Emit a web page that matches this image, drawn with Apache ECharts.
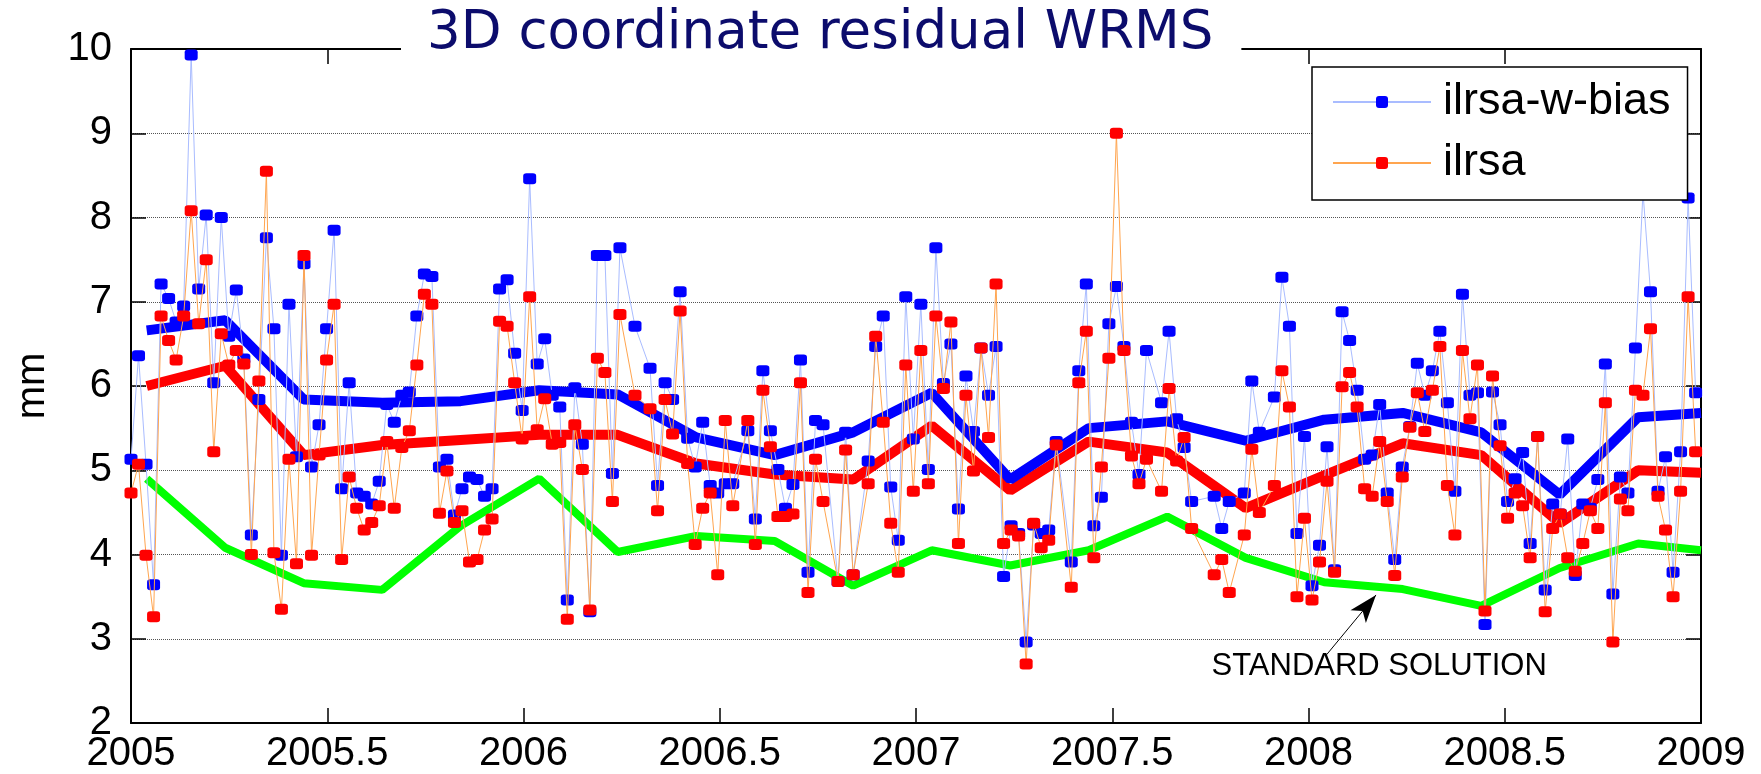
<!DOCTYPE html>
<html>
<head>
<meta charset="utf-8">
<title>3D coordinate residual WRMS</title>
<script src="https://cdn.jsdelivr.net/npm/echarts@6/dist/echarts.min.js"></script>
<style>
  html, body { margin: 0; padding: 0; background: #fff; }
  #chart { width: 1761px; height: 774px; }
</style>
</head>
<body>
<div id="chart"></div>
<script>
// Weekly solutions: week number counted from the start of 2005
const weekNo = [
  0,1,2,3,4,5,6,7,8,9,10,11,12,13,14,15,16,17,18,19,
  20,21,22,23,24,25,26,27,28,29,30,31,32,33,34,35,36,37,38,39,
  40,41,42,43,44,45,46,47,48,49,50,51,52,53,54,55,56,57,58,59,
  60,61,62,63,64,65,67,
  69,70,71,72,73,74,75,76,77,78,79,80,
  82,83,84,85,86,87,88,89,90,91,92,
  94,95,96,
  98,99,100,101,102,103,104,105,106,107,108,109,110,111,112,113,114,115,116,117,118,119,120,121,122,123,
  125,126,127,128,129,130,131,132,133,134,135,
  137,138,139,140,141,
  144,145,146,
  148,149,150,
  152,153,154,155,156,157,158,159,160,161,162,163,164,165,166,167,168,169,170,171,
  172,173,174,175,176,177,178,179,180,181,182,183,184,185,186,187,188,189,190,191,
  192,193,194,195,196,197,198,199,200,201,202,203,204,205,206,207,208
];

// 3D coordinate residual WRMS (mm), solution with range biases estimated
const wrmsBias = [
  5.13,6.36,5.07,3.64,7.21,7.04,6.76,6.95,9.93,7.15,
  8.03,6.04,8.00,6.59,7.14,6.32,4.23,5.84,7.76,6.68,
  3.99,6.97,5.16,7.45,5.04,5.54,6.68,7.85,4.78,6.04,
  4.73,4.69,4.60,4.87,5.78,5.57,5.89,5.93,6.83,7.33,
  7.30,5.04,5.13,4.47,4.78,4.92,4.89,4.69,4.78,7.15,
  7.26,6.39,5.71,8.46,6.26,6.56,5.89,5.75,3.46,5.98,
  5.31,3.32,7.55,7.55,4.96,7.64,6.71,
  6.21,4.82,6.04,5.84,7.12,5.38,5.04,5.57,4.82,4.73,4.84,4.84,
  5.47,4.42,6.18,5.47,5.01,4.55,4.83,6.31,3.79,5.59,5.54,
  3.68,5.45,3.76,
  5.11,6.47,6.83,4.80,4.17,7.06,5.37,6.97,5.01,7.64,6.03,6.50,4.54,6.12,5.46,6.45,5.89,6.47,3.74,4.34,4.25,2.96,4.35,4.25,4.29,5.34,
  3.91,6.18,7.21,4.34,4.68,6.74,7.18,6.47,5.57,4.95,6.42,
  5.80,6.65,5.61,5.27,4.63,
  4.69,4.31,4.63,
  4.73,6.06,5.45,
  5.87,7.29,6.71,4.25,5.40,3.63,4.11,5.28,3.82,6.88,6.54,5.95,5.13,5.18,5.78,4.73,3.94,5.04,5.52,6.27,
  5.89,6.18,6.65,5.80,4.75,7.09,5.89,5.92,3.17,5.93,5.54,4.63,4.90,5.21,4.13,5.40,3.58,4.60,4.48,5.37,
  3.75,4.60,4.55,4.89,6.26,3.53,4.92,4.73,6.45,8.30,7.12,4.75,5.16,3.79,5.22,8.23,5.92
];

// 3D coordinate residual WRMS (mm), solution without range biases
const wrmsPlain = [
  4.73,5.07,3.99,3.26,6.83,6.54,6.31,6.83,8.08,6.74,
  7.50,5.22,6.62,6.25,6.42,6.26,4.00,6.06,8.55,4.02,
  3.35,5.13,3.89,7.55,3.99,5.18,6.31,6.97,3.94,4.92,
  4.55,4.29,4.38,4.58,5.34,4.55,5.27,5.47,6.25,7.09,
  6.97,4.49,4.99,4.38,4.52,3.91,3.94,4.29,4.42,6.77,
  6.71,6.04,5.37,7.06,5.48,5.85,5.31,5.33,3.23,5.54,
  5.01,3.34,6.33,6.16,4.63,6.85,5.89,
  5.73,4.52,5.84,5.43,6.89,5.08,4.12,4.55,4.73,3.76,5.59,4.58,
  5.59,4.12,5.95,5.28,4.45,4.45,4.48,6.04,3.55,5.13,4.63,
  3.68,5.24,3.76,
  4.84,6.59,5.57,4.37,3.79,6.25,4.75,6.42,4.84,6.83,5.97,6.76,4.13,5.89,4.99,6.45,5.39,7.21,4.13,4.29,4.22,2.70,4.37,4.08,4.17,5.30,
  3.61,6.04,6.65,3.96,5.04,6.33,9.00,6.42,5.17,4.84,5.13,
  4.75,5.97,5.11,5.39,4.31,
  3.76,3.94,3.55,
  4.23,5.25,4.50,
  4.82,6.18,5.75,3.50,4.43,3.46,3.91,4.87,3.79,5.99,6.16,5.75,4.78,4.69,5.34,4.63,3.75,4.92,5.51,5.92,
  5.46,5.95,6.47,4.82,4.23,6.42,5.61,6.25,3.33,6.12,5.29,4.43,4.73,4.58,3.96,5.40,3.32,4.31,4.48,3.96,
  3.80,4.13,4.52,4.31,5.80,2.96,4.66,4.52,5.95,5.89,6.68,4.69,4.29,3.50,4.75,7.06,5.22
];

// Smoothed (~0.2 yr) WRMS curves
const trendYears = [2005.04,2005.24,2005.44,2005.64,2005.84,2006.04,2006.24,2006.44,2006.64,2006.84,
                    2007.04,2007.24,2007.44,2007.64,2007.84,2008.04,2008.24,2008.44,2008.64,2008.84,2009.0];
const trendBias = [6.66,6.78,5.84,5.80,5.82,5.95,5.90,5.39,5.18,5.45,
                   5.92,4.89,5.50,5.58,5.35,5.60,5.68,5.45,4.71,5.63,5.68];
const trendPlain = [6.00,6.24,5.18,5.30,5.36,5.42,5.42,5.08,4.95,4.89,
                    5.53,4.76,5.34,5.21,4.55,4.94,5.32,5.18,4.37,5.00,4.97];
const trendStandard = [4.90,4.08,3.66,3.58,4.34,4.90,4.03,4.22,4.16,3.63,
                       4.05,3.87,4.05,4.45,3.96,3.67,3.59,3.39,3.84,4.13,4.05];

const xTickRange = { min: 2005, max: 2009, step: 0.5 };
const yTickRange = { min: 2, max: 10, step: 1 };

const toYear = w => 2005 + w * 7 / 365.25;
const pairs = (xs, ys) => xs.map((x, i) => [x, ys[i]]);
const weekYears = weekNo.map(toYear);

const FONT = 'Liberation Sans, Arial, Helvetica, sans-serif';

const axisLineStyle = { show: true, onZero: false, lineStyle: { color: '#000', width: 2 } };
const tickStyle = { show: true, inside: true, length: 15, lineStyle: { color: '#000', width: 1.5 } };

const chart = echarts.init(document.getElementById('chart'), null, { renderer: 'canvas' });

chart.setOption({
  animation: false,
  backgroundColor: '#fff',
  title: {
    text: '3D coordinate residual WRMS',
    left: 401,
    top: 1,
    padding: [7, 28, 12, 26],
    backgroundColor: '#fff',
    textStyle: {
      fontFamily: 'DejaVu Sans',
      fontSize: 53,
      fontWeight: 'normal',
      color: '#0c0c6c'
    },
    z: 8
  },
  legend: {
    data: ['ilrsa-w-bias', 'ilrsa'],
    orient: 'vertical',
    left: 1312,
    top: 67,
    itemWidth: 98,
    itemHeight: 15,
    itemGap: 15,
    padding: [12, 17, 14, 20],
    borderColor: '#000',
    borderWidth: 1.5,
    backgroundColor: '#fff',
    selectedMode: false,
    textStyle: { fontSize: 45, fontFamily: FONT, color: '#000', lineHeight: 46, padding: [0, 0, 0, 7] },
    z: 10
  },
  grid: { left: 131, right: 60, top: 49, bottom: 47, containLabel: false },
  xAxis: [
    {
      type: 'value', position: 'bottom',
      min: xTickRange.min, max: xTickRange.max, interval: xTickRange.step,
      axisLine: axisLineStyle, axisTick: tickStyle,
      axisLabel: { fontSize: 40, fontFamily: FONT, color: '#000', margin: 11, formatter: v => String(v) },
      splitLine: { show: false }
    },
    {
      type: 'value', position: 'top',
      min: xTickRange.min, max: xTickRange.max, interval: xTickRange.step,
      axisLine: axisLineStyle, axisTick: tickStyle,
      axisLabel: { show: false }, splitLine: { show: false }
    }
  ],
  yAxis: [
    {
      type: 'value', position: 'left',
      min: yTickRange.min, max: yTickRange.max, interval: yTickRange.step,
      name: 'mm', nameLocation: 'middle', nameGap: 78, nameRotate: 90,
      nameTextStyle: { fontSize: 40, fontFamily: FONT, color: '#000' },
      axisLine: axisLineStyle, axisTick: tickStyle,
      axisLabel: { fontSize: 40, fontFamily: FONT, color: '#000', margin: 19, formatter: v => String(v) },
      splitLine: { show: true, lineStyle: { type: 'dotted', color: '#555', width: 1 } }
    },
    {
      type: 'value', position: 'right',
      min: yTickRange.min, max: yTickRange.max, interval: yTickRange.step,
      axisLine: axisLineStyle, axisTick: tickStyle,
      axisLabel: { show: false }, splitLine: { show: false }
    }
  ],
  series: [
    {
      name: 'standard',
      type: 'line',
      data: pairs(trendYears, trendStandard),
      symbol: 'none',
      lineStyle: { color: '#00ff00', width: 8 },
      z: 2,
      silent: true,
      markLine: {
        silent: true,
        symbol: ['none', 'arrow'],
        symbolSize: [15, 28],
        label: { show: false },
        lineStyle: { color: '#000', width: 1, type: 'solid' },
        data: [[{ coord: [2008.046, 2.81] }, { coord: [2008.172, 3.52] }]]
      },
      markPoint: {
        silent: true,
        symbol: 'rect',
        symbolSize: 1,
        itemStyle: { color: 'rgba(0,0,0,0)' },
        label: {
          show: true, position: 'inside', formatter: 'STANDARD SOLUTION',
          fontSize: 31, fontFamily: FONT, color: '#000'
        },
        data: [{ coord: [2008.18, 2.67] }]
      }
    },
    {
      name: 'ilrsa trend',
      type: 'line',
      data: pairs(trendYears, trendPlain),
      symbol: 'none',
      lineStyle: { color: '#ff0000', width: 10 },
      z: 2,
      silent: true
    },
    {
      name: 'ilrsa-w-bias trend',
      type: 'line',
      data: pairs(trendYears, trendBias),
      symbol: 'none',
      lineStyle: { color: '#0000ff', width: 10 },
      z: 2,
      silent: true
    },
    {
      name: 'ilrsa-w-bias',
      type: 'line',
      data: pairs(weekYears, wrmsBias),
      symbol: 'roundRect',
      symbolSize: [13, 11],
      showSymbol: true,
      itemStyle: { color: '#0000ff' },
      lineStyle: { color: '#a9bcff', width: 1 },
      z: 3,
      silent: true
    },
    {
      name: 'ilrsa',
      type: 'line',
      data: pairs(weekYears, wrmsPlain),
      symbol: 'roundRect',
      symbolSize: [13, 11],
      showSymbol: true,
      itemStyle: { color: '#ff0000' },
      lineStyle: { color: '#ffa54f', width: 1 },
      z: 4,
      silent: true
    }
  ]
});
</script>
</body>
</html>
